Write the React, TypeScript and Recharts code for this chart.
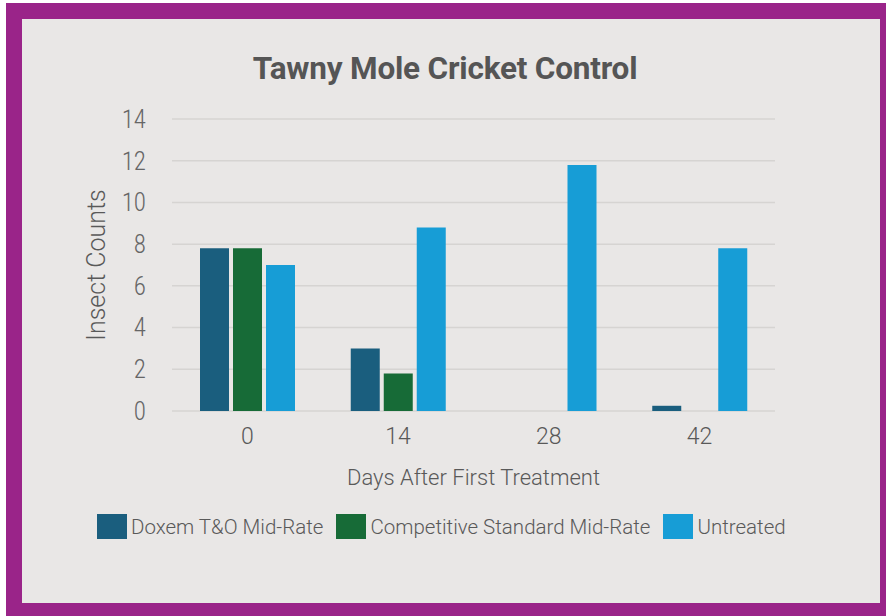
import React from 'react';
import { BarChart, Bar, XAxis, YAxis, CartesianGrid } from 'recharts';

const DAYS = ['0', '14', '28', '42'];
const DOXEM = [7.8, 3, 0, 0.25];
const COMPETITIVE = [7.8, 1.8, 0, 0];
const UNTREATED = [7, 8.8, 11.8, 7.8];
const Y_TICKS = [0, 2, 4, 6, 8, 10, 12, 14];

const SERIES = [
  { key: 'doxem', name: 'Doxem T&O Mid-Rate', color: '#1a5e7e' },
  { key: 'competitive', name: 'Competitive Standard Mid-Rate', color: '#176b37' },
  { key: 'untreated', name: 'Untreated', color: '#179dd6' },
];

const data = DAYS.map((d, i) => ({
  day: d,
  doxem: DOXEM[i],
  competitive: COMPETITIVE[i],
  untreated: UNTREATED[i],
}));

const FONT = 'Roboto, "Liberation Sans", sans-serif';
const NARROW = '"Liberation Sans Narrow", "Roboto Condensed", Roboto, sans-serif';
const TEXT = '#595959';

export default function App() {
  return (
    <div style={{ position: 'absolute', left: 0, top: 0, width: 886, height: 616, background: '#fff', fontFamily: FONT }}>
      <div style={{ position: 'absolute', left: 6, top: 3, width: 880, height: 613, background: '#9a2489' }} />
      <div style={{ position: 'absolute', left: 22, top: 19, width: 858, height: 584, background: '#e9e7e6' }} />
      <div
        style={{
          position: 'absolute', left: 0, top: 53, width: 890, textAlign: 'center',
          fontSize: 31.5, lineHeight: '32px', fontWeight: 700, color: '#555', letterSpacing: -0.2,
        }}
      >
        Tawny Mole Cricket Control
      </div>
      <div style={{ position: 'absolute', left: 0, top: 0 }}>
        <BarChart
          width={886}
          height={616}
          data={data}
          margin={{ top: 119, right: 111, bottom: 125, left: 0 }}
          barCategoryGap={27}
          barGap={4}
        >
          <CartesianGrid vertical={false} stroke="#d6d4d2" strokeWidth={1.5} />
          <XAxis
            dataKey="day"
            height={80}
            axisLine={false}
            tickLine={false}
            tickMargin={11}
            tick={{ fill: TEXT, fontSize: 23, fontWeight: 300 }}
            label={{ value: 'Days After First Treatment', position: 'insideBottom', offset: 6, fill: TEXT, fontSize: 22, fontWeight: 300 }}
          />
          <YAxis
            width={172}
            domain={[0, 14]}
            ticks={Y_TICKS}
            axisLine={false}
            tickLine={false}
            tickMargin={20}
            tick={{ fill: '#666', fontSize: 25, fontFamily: NARROW, fontWeight: 300 }}
            label={{ value: 'Insect Counts', angle: -90, position: 'insideLeft', offset: 96, fill: TEXT, fontSize: 25, fontWeight: 300, style: { textAnchor: 'middle' } }}
          />
          {SERIES.map((s) => (
            <Bar key={s.key} dataKey={s.key} name={s.name} fill={s.color} barSize={29} isAnimationActive={false} />
          ))}
        </BarChart>
      </div>
      <div style={{ position: 'absolute', left: 97, top: 514, display: 'flex', alignItems: 'center' }}>
        {SERIES.map((s) => (
          <div key={s.key} style={{ display: 'flex', alignItems: 'center', marginRight: 13 }}>
            <div style={{ width: 30, height: 25, background: s.color, marginRight: 4 }} />
            <span style={{ fontSize: 20.5, color: TEXT, fontWeight: 300 }}>{s.name}</span>
          </div>
        ))}
      </div>
    </div>
  );
}
